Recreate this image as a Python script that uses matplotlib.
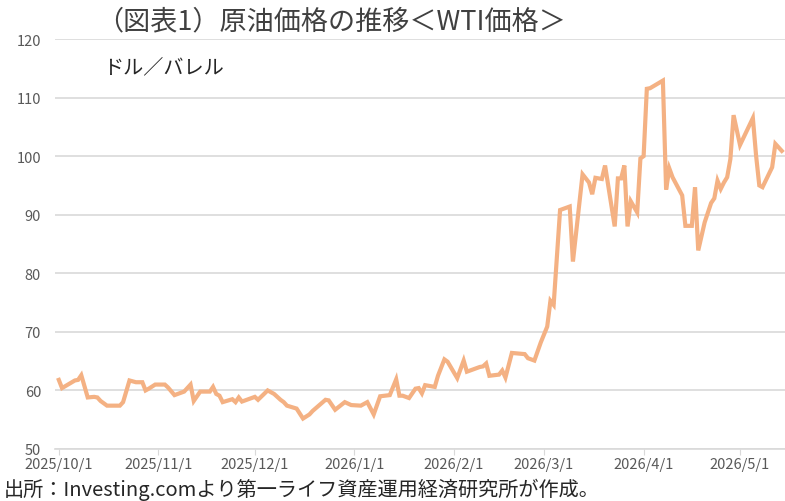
import pandas as pd
import matplotlib
matplotlib.use("Agg")
import matplotlib.pyplot as plt

plt.rcParams['font.family'] = ['Noto Sans CJK JP', 'DejaVu Sans']

# WTI price (USD/bbl)
dates = [
    "2025-10-01", "2025-10-02", "2025-10-06", "2025-10-07", "2025-10-08", "2025-10-10",
    "2025-10-12", "2025-10-13", "2025-10-14", "2025-10-16", "2025-10-20", "2025-10-21",
    "2025-10-23", "2025-10-25", "2025-10-27", "2025-10-28", "2025-10-29", "2025-10-31",
    "2025-11-03", "2025-11-04", "2025-11-06", "2025-11-09", "2025-11-11", "2025-11-12",
    "2025-11-14", "2025-11-17", "2025-11-18", "2025-11-19", "2025-11-20", "2025-11-21",
    "2025-11-24", "2025-11-25", "2025-11-26", "2025-11-27",
    "2025-12-01", "2025-12-02", "2025-12-05", "2025-12-07", "2025-12-09", "2025-12-10",
    "2025-12-11", "2025-12-14", "2025-12-16", "2025-12-18", "2025-12-19", "2025-12-23",
    "2025-12-24", "2025-12-26", "2025-12-29", "2025-12-31",
    "2026-01-03", "2026-01-05", "2026-01-07", "2026-01-09", "2026-01-12", "2026-01-14",
    "2026-01-15", "2026-01-16", "2026-01-18", "2026-01-20", "2026-01-21", "2026-01-22",
    "2026-01-23", "2026-01-26", "2026-01-27", "2026-01-29", "2026-01-30",
    "2026-02-02", "2026-02-04", "2026-02-05", "2026-02-09", "2026-02-10", "2026-02-11",
    "2026-02-12", "2026-02-15", "2026-02-16", "2026-02-17", "2026-02-19", "2026-02-23",
    "2026-02-24", "2026-02-26", "2026-02-28",
    "2026-03-02", "2026-03-03", "2026-03-04", "2026-03-06", "2026-03-09", "2026-03-10",
    "2026-03-13", "2026-03-15", "2026-03-16", "2026-03-17", "2026-03-19", "2026-03-20",
    "2026-03-23", "2026-03-24", "2026-03-25", "2026-03-26", "2026-03-27", "2026-03-28",
    "2026-03-30", "2026-03-31",
    "2026-04-01", "2026-04-02", "2026-04-03", "2026-04-07", "2026-04-08", "2026-04-09",
    "2026-04-10", "2026-04-13", "2026-04-14", "2026-04-16", "2026-04-17", "2026-04-18",
    "2026-04-20", "2026-04-22", "2026-04-23", "2026-04-24", "2026-04-25", "2026-04-26",
    "2026-04-27", "2026-04-28", "2026-04-29",
    "2026-05-01", "2026-05-05", "2026-05-06", "2026-05-07", "2026-05-08", "2026-05-11",
    "2026-05-12", "2026-05-14",
]
wti = [
    61.8, 60.4, 61.7, 61.8, 62.6, 58.8,
    58.9, 58.8, 58.2, 57.4, 57.4, 58.0,
    61.7, 61.4, 61.4, 60.0, 60.3, 61.0,
    61.0, 60.5, 59.2, 59.8, 61.0, 58.2,
    59.8, 59.8, 60.6, 59.4, 59.1, 58.0,
    58.5, 58.0, 58.8, 58.1,
    58.9, 58.4, 60.0, 59.4, 58.4, 58.0,
    57.4, 56.9, 55.2, 55.9, 56.5, 58.4,
    58.3, 56.7, 58.0, 57.5,
    57.4, 58.0, 55.9, 59.0, 59.2, 61.9,
    59.1, 59.1, 58.7, 60.3, 60.4, 59.5,
    60.9, 60.6, 62.5, 65.3, 64.9,
    62.1, 65.1, 63.2, 64.0, 64.1, 64.6,
    62.5, 62.7, 63.4, 62.2, 66.4, 66.2,
    65.5, 65.1, 68.2,
    70.9, 75.3, 74.6, 90.8, 91.4, 82.0,
    96.9, 95.5, 93.5, 96.3, 96.1, 98.4,
    88.0, 96.2, 96.2, 98.4, 88.0, 92.3,
    90.4, 99.6,
    100.0, 111.5, 111.6, 112.9, 94.3, 97.9,
    96.4, 93.3, 88.1, 88.1, 94.7, 83.9,
    88.7, 92.0, 92.8, 95.8, 94.4, 95.5,
    96.4, 99.5, 107.0,
    101.9, 106.5, 100.1, 95.0, 94.7, 98.1,
    102.1, 100.9,
]
tick_dates = ["2025-10-01", "2025-11-01", "2025-12-01", "2026-01-01",
              "2026-02-01", "2026-03-01", "2026-04-01", "2026-05-01"]
tick_labels = ["2025/10/1", "2025/11/1", "2025/12/1", "2026/1/1",
               "2026/2/1", "2026/3/1", "2026/4/1", "2026/5/1"]
y_ticks = [50, 60, 70, 80, 90, 100, 110, 120]

x = pd.to_datetime(dates)

fig = plt.figure(figsize=(7.85, 5.02), dpi=100)
ax = fig.add_axes([0.070, 0.1036, 0.930, 0.8167])

ax.plot(x, wti, color='#F4B183', linewidth=3.0, solid_joinstyle='miter', zorder=3)

ax.set_ylim(50, 120)
ax.set_yticks(y_ticks)
ax.set_xlim(pd.Timestamp("2025-10-01") - pd.Timedelta(days=1.2),
            pd.Timestamp("2025-10-01") + pd.Timedelta(days=226))
ax.set_xticks(pd.to_datetime(tick_dates))
ax.set_xticklabels(tick_labels)

ax.grid(axis='y', color='#D9D9D9', linewidth=1.2, zorder=0)
for s in ['top', 'right', 'left']:
    ax.spines[s].set_visible(False)
ax.spines['bottom'].set_color('#D9D9D9')
ax.spines['bottom'].set_linewidth(1.2)
ax.tick_params(axis='y', length=0, labelsize=10.5, labelcolor='#595959', pad=10)
ax.tick_params(axis='x', length=4, color='#D9D9D9', labelsize=10.5,
               labelcolor='#595959', pad=2)

fig.text(0.122, 0.956, "（図表1）原油価格の推移＜WTI価格＞", fontsize=19.5,
         color='#404040', va='center', ha='left')
fig.text(0.131, 0.866, "ドル／バレル", fontsize=14.5, color='#262626',
         va='center', ha='left')
fig.text(0.005, 0.002, "出所：Investing.comより第一ライフ資産運用経済研究所が作成。",
         fontsize=14.5, color='#262626', va='bottom', ha='left')

fig.savefig("out.png", dpi=100)
